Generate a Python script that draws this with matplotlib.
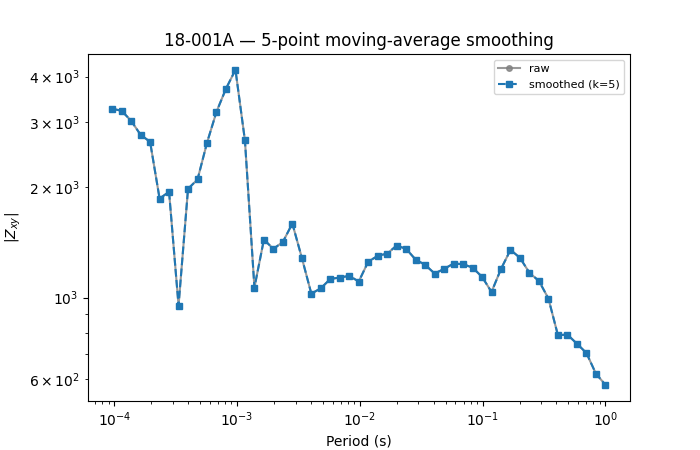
import numpy as np
import matplotlib
matplotlib.use("Agg")
import matplotlib.pyplot as plt

# periods: log spaced, first one just under 1e-4 s, last at 1 s
period = np.logspace(-4.018, 0, 53)

# |Zxy|
raw_z = [3268, 3226, 3030, 2775, 2656, 1861, 1941, 951, 1978, 2097,
         2640, 3206, 3705, 4173, 2678, 1065, 1439, 1357, 1418, 1591,
         1283, 1025, 1060, 1124, 1134, 1146, 1106, 1253, 1299, 1318,
         1386, 1357, 1269, 1228, 1163, 1197, 1238, 1233, 1207, 1139,
         1036, 1197, 1349, 1283, 1168, 1110, 994, 790, 793, 749,
         707, 621, 579]

# smoothed curve sits on top of the raw one in the picture
smooth_z = [3268, 3226, 3030, 2775, 2656, 1861, 1941, 951, 1978, 2097,
            2640, 3206, 3705, 4173, 2678, 1065, 1439, 1357, 1418, 1591,
            1283, 1025, 1060, 1124, 1134, 1146, 1106, 1253, 1299, 1318,
            1386, 1357, 1269, 1228, 1163, 1197, 1238, 1233, 1207, 1139,
            1036, 1197, 1349, 1283, 1168, 1110, 994, 790, 793, 749,
            707, 621, 579]

fig, ax = plt.subplots(figsize=(7, 4.5), dpi=100)
ax.plot(period, raw_z, marker="o", markersize=4, color="gray", alpha=0.8, label="raw")
ax.plot(period, smooth_z, "--", marker="s", markersize=4, color="C0", label="smoothed (k=5)")
ax.set_xscale("log")
ax.set_yscale("log")
ax.set_xlabel("Period (s)")
ax.set_ylabel("$|Z_{xy}|$")
ax.set_title("18-001A \u2014 5-point moving-average smoothing")
ax.legend(fontsize=8)
fig.savefig("out.png")
